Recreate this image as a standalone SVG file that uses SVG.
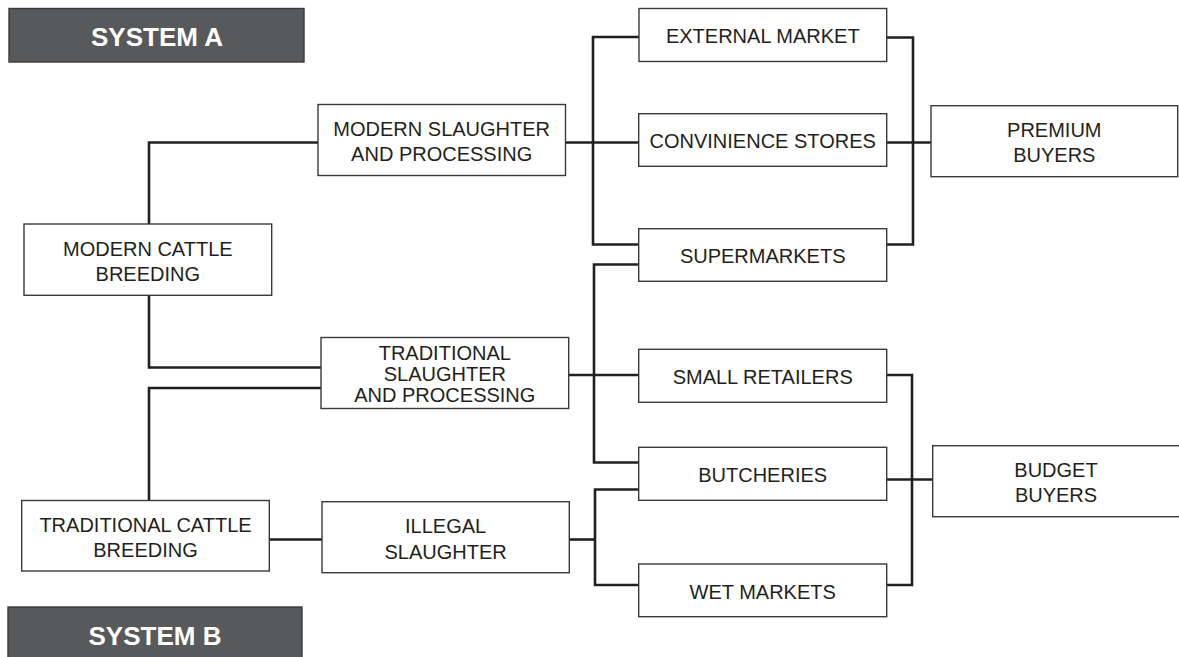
<svg xmlns="http://www.w3.org/2000/svg" width="1179" height="657" viewBox="0 0 1179 657">
<style>
.box{fill:#fff;stroke:#3a3a3a;stroke-width:1.4}
.hdr{fill:#58595b;stroke:#3a3a3a;stroke-width:1.4}
.t{font-family:"Liberation Sans",Arial,sans-serif;font-size:20px;fill:#231f20;text-anchor:middle}
.h{font-family:"Liberation Sans",Arial,sans-serif;font-size:26px;font-weight:bold;fill:#fff;text-anchor:middle}
.c{fill:none;stroke:#231f20;stroke-width:2.6;stroke-linejoin:miter}
</style>
<rect width="1179" height="657" fill="#fff"/>
<g id="connectors">
<path class="c" d="M149,224 V142.5 H318"/>
<path class="c" d="M149,295.5 V367.5 H321"/>
<path class="c" d="M149,500.5 V388 H321"/>
<path class="c" d="M269.5,539.5 H322"/>
<path class="c" d="M565.5,142.5 H639"/>
<path class="c" d="M639,37 H593 V244.5 H639"/>
<path class="c" d="M887,37.5 H913 V244.5 H887"/>
<path class="c" d="M887,142.5 H931"/>
<path class="c" d="M569,375 H639"/>
<path class="c" d="M639,264.5 H594 V462.5 H639"/>
<path class="c" d="M569.5,539.5 H595"/>
<path class="c" d="M639,489.5 H595 V585 H639"/>
<path class="c" d="M887,375 H912 V585 H887"/>
<path class="c" d="M887,479.5 H932.5"/>
</g>
<g id="system-a">
<rect class="hdr" x="9" y="8.5" width="295" height="53.5"/>
<text class="h" x="157" y="45.5">SYSTEM A</text>
</g>
<g id="system-b">
<rect class="hdr" x="8" y="607" width="294" height="60"/>
<text class="h" x="155" y="645">SYSTEM B</text>
</g>
<g id="modern-slaughter">
<rect class="box" x="318" y="104.5" width="247.5" height="71"/>
<text class="t" x="441.7" y="136">MODERN SLAUGHTER</text>
<text class="t" x="441.7" y="161.3">AND PROCESSING</text>
</g>
<g id="modern-cattle">
<rect class="box" x="24" y="224" width="247.7" height="71.3"/>
<text class="t" x="147.8" y="255.7">MODERN CATTLE</text>
<text class="t" x="147.8" y="281">BREEDING</text>
</g>
<g id="traditional-slaughter">
<rect class="box" x="321" y="337.5" width="247.7" height="71"/>
<text class="t" x="444.8" y="360">TRADITIONAL</text>
<text class="t" x="444.8" y="381.3">SLAUGHTER</text>
<text class="t" x="444.8" y="401.7">AND PROCESSING</text>
</g>
<g id="traditional-cattle">
<rect class="box" x="21.7" y="500.5" width="247.6" height="70.5"/>
<text class="t" x="145.5" y="532">TRADITIONAL CATTLE</text>
<text class="t" x="145.5" y="557.3">BREEDING</text>
</g>
<g id="illegal-slaughter">
<rect class="box" x="322" y="501.7" width="247.3" height="71"/>
<text class="t" x="445.6" y="533.4">ILLEGAL</text>
<text class="t" x="445.6" y="558.7">SLAUGHTER</text>
</g>
<g id="external-market">
<rect class="box" x="639" y="8.5" width="247.7" height="53"/>
<text class="t" x="762.8" y="43.3">EXTERNAL MARKET</text>
</g>
<g id="convenience-stores">
<rect class="box" x="638.7" y="113.7" width="248" height="52.6"/>
<text class="t" x="762.7" y="148.3">CONVINIENCE STORES</text>
</g>
<g id="supermarkets">
<rect class="box" x="638.7" y="228.7" width="248" height="52.6"/>
<text class="t" x="762.7" y="263.3">SUPERMARKETS</text>
</g>
<g id="small-retailers">
<rect class="box" x="638.7" y="349.3" width="248" height="53"/>
<text class="t" x="762.7" y="383.5">SMALL RETAILERS</text>
</g>
<g id="butcheries">
<rect class="box" x="638.7" y="447.3" width="248" height="53"/>
<text class="t" x="762.7" y="481.7">BUTCHERIES</text>
</g>
<g id="wet-markets">
<rect class="box" x="638.7" y="564" width="248" height="52.7"/>
<text class="t" x="762.7" y="598.5">WET MARKETS</text>
</g>
<g id="premium-buyers">
<rect class="box" x="931" y="105.7" width="246.7" height="71"/>
<text class="t" x="1054.3" y="136.5">PREMIUM</text>
<text class="t" x="1054.3" y="162">BUYERS</text>
</g>
<g id="budget-buyers">
<rect class="box" x="932.7" y="445.7" width="250" height="71"/>
<text class="t" x="1056" y="476.5">BUDGET</text>
<text class="t" x="1056" y="502">BUYERS</text>
</g>
</svg>
